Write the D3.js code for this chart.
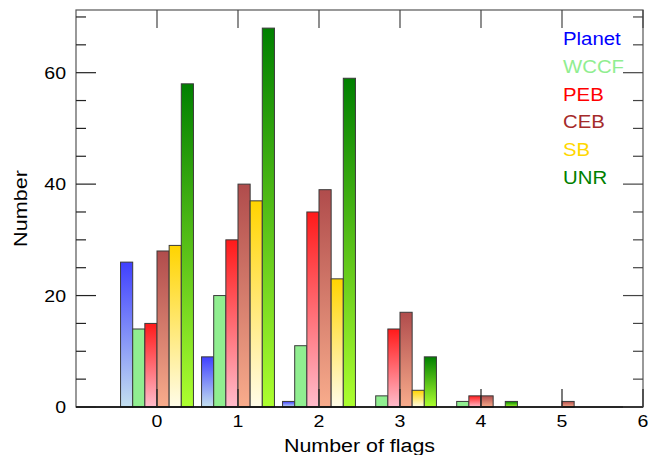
<!DOCTYPE html>
<html><head><meta charset="utf-8">
<script src="https://cdn.jsdelivr.net/npm/d3@7"></script>
<style>body{margin:0;background:#fff;}svg{display:block;font-family:"Liberation Sans",Arial,sans-serif;}</style>
</head><body>
<svg id="c" width="655" height="455"></svg>
<script>
const flags = [0, 1, 2, 3, 4, 5];
const seriesNames = ["Planet", "WCCF", "PEB", "CEB", "SB", "UNR"];
const planet = [26, 9, 1, 0, 0, 0];
const wccf   = [14, 20, 11, 2, 1, 0];
const peb    = [15, 30, 35, 14, 2, 0];
const ceb    = [28, 40, 39, 17, 2, 1];
const sb     = [29, 37, 23, 3, 0, 0];
const unr    = [58, 68, 59, 9, 1, 0];
const xTicks = [0, 1, 2, 3, 4, 5, 6];
const yTicks = [0, 20, 40, 60];
const legendColors = ["#0000ff", "#90ee90", "#ff0000", "#a52a2a", "#ffd700", "#008000"];
const topColors = ["#4040ff", "#90ee90", "#ff1a1a", "#b04c4c", "#ffd400", "#008000"];
const bottomColors = ["#c4e0f0", "#90ee90", "#ffbccb", "#f8ac8c", "#fffce8", "#adff2f"];

const allSeries = [planet, wccf, peb, ceb, sb, unr];
const svg = d3.select("#c");
const L = 76, R = 643, T = 10, B = 407;
const x = d3.scaleLinear().domain([-1, 6]).range([L, R]);
const y = d3.scaleLinear().domain([0, 71.25]).range([B, T]);
const bw = 0.15;

const defs = svg.append("defs");
seriesNames.forEach((n, i) => {
  const g = defs.append("linearGradient").attr("id", "g" + i)
    .attr("x1", 0).attr("y1", 0).attr("x2", 0).attr("y2", 1);
  g.append("stop").attr("offset", "0%").attr("stop-color", topColors[i]);
  g.append("stop").attr("offset", "100%").attr("stop-color", bottomColors[i]);
});

// bars
allSeries.forEach((vals, si) => {
  svg.append("g").selectAll("rect").data(flags.map((f, k) => ({f, v: vals[k]})).filter(d => d.v > 0))
    .enter().append("rect")
    .attr("x", d => x(d.f - 0.45 + si * bw))
    .attr("width", d => x(d.f - 0.45 + (si + 1) * bw) - x(d.f - 0.45 + si * bw))
    .attr("y", d => y(d.v))
    .attr("height", d => y(0) - y(d.v))
    .attr("fill", `url(#g${si})`)
    .attr("stroke", "#3a3a3a").attr("stroke-width", 1);
});

// frame
const axG = svg.append("g").attr("stroke", "#000").attr("stroke-width", 1.2).attr("fill", "none");
axG.append("rect").attr("x", L).attr("y", T).attr("width", R - L).attr("height", B - T).attr("stroke", "#555");
axG.append("line").attr("x1", L).attr("x2", R).attr("y1", B).attr("y2", B).attr("stroke", "#000").attr("stroke-width", 1.5);

xTicks.forEach(t => {
  axG.append("line").attr("x1", x(t)).attr("x2", x(t)).attr("y1", B).attr("y2", B - 18).attr("stroke", "#222");
  axG.append("line").attr("x1", x(t)).attr("x2", x(t)).attr("y1", T).attr("y2", T + 18).attr("stroke", "#444");
});
d3.range(0, 71, 5).forEach(t => {
  const len = (t % 20 === 0) ? 20 : 10;
  axG.append("line").attr("x1", L).attr("x2", L + len).attr("y1", y(t)).attr("y2", y(t)).attr("stroke", "#222");
  axG.append("line").attr("x1", R).attr("x2", R - len).attr("y1", y(t)).attr("y2", y(t)).attr("stroke", "#444");
});

function label(g, tx, ty, txt, size, sx, anchor, rot, fill) {
  return g.append("text")
    .attr("transform", `translate(${tx},${ty})` + (rot ? ` rotate(${rot})` : "") + ` scale(${sx},1)`)
    .attr("text-anchor", anchor).attr("font-size", size).attr("fill", fill || "#000").text(txt);
}
const tg = svg.append("g");
xTicks.forEach(t => label(tg, x(t), 427, t, 17, 1.15, "middle"));
yTicks.forEach(t => label(tg, 66, y(t) + 6, t, 17, 1.15, "end"));

label(tg, (L + R) / 2, 452, "Number of flags", 18, 1.19, "middle");
label(tg, 27, (T + B) / 2, "Number", 18, 1.2, "middle", -90);

seriesNames.forEach((n, i) => label(tg, 563, 45 + i * 27.8, n, 18.5, 1.1, "start", 0, legendColors[i]));
</script>
</body></html>
